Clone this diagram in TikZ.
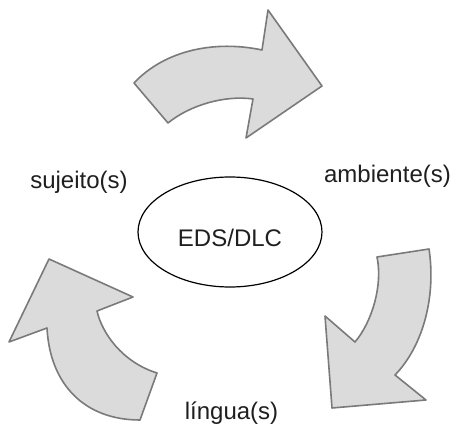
\documentclass[tikz,border=0pt]{standalone}
\usepackage{fontspec}
\setmainfont{Liberation Sans}
\usetikzlibrary{shapes.geometric}
\begin{document}
\begin{tikzpicture}[x=1pt,y=-1pt]
        \tikzset{
            cyclearrow/.style={fill=black!14,draw=black!52,line width=1.6pt,line join=round},
            core/.style={ellipse,draw=black,line width=1.2pt,minimum width=184pt,minimum height=110pt,inner sep=0pt},
            lbl/.style={anchor=base,inner sep=0pt,text=black!88,font=\fontsize{24}{28}\selectfont},
        }
        \useasboundingbox (0,0) rectangle (453,427);

        % top arrow: sujeito(s) -> ambiente(s)
        \draw[cyclearrow] (134,83) .. controls (165,50) and (215,40) .. (262,50)
            -- (268,10) -- (322,86) -- (246,138) -- (253,99)
            .. controls (225,95) and (190,105) .. (168,123) -- cycle;
        % right arrow: ambiente(s) -> lingua(s)
        \draw[cyclearrow] (377,257) -- (429,249)
            .. controls (436,295) and (424,345) .. (395,375)
            -- (426,400) -- (332,408) -- (325,316) -- (355,342)
            .. controls (372,322) and (383,285) .. (377,257) -- cycle;
        % left arrow: lingua(s) -> sujeito(s)
        \draw[cyclearrow] (140,420) -- (157,373)
            .. controls (122,362) and (102,333) .. (97,311)
            -- (133,297) -- (49,259) -- (9,342) -- (47,328)
            .. controls (50,385) and (85,420) .. (140,420) -- cycle;

        \node[core] (eds) at (230,232) {};
        \node[lbl] (edstext) at (230,247) {EDS/DLC};
        \node[lbl] (suj) at (79,189) {sujeito(s)};
        \node[lbl] (amb) at (387.5,183) {ambiente(s)};
        \node[lbl] (lin) at (231.5,420) {língua(s)};
    \end{tikzpicture}
\end{document}
